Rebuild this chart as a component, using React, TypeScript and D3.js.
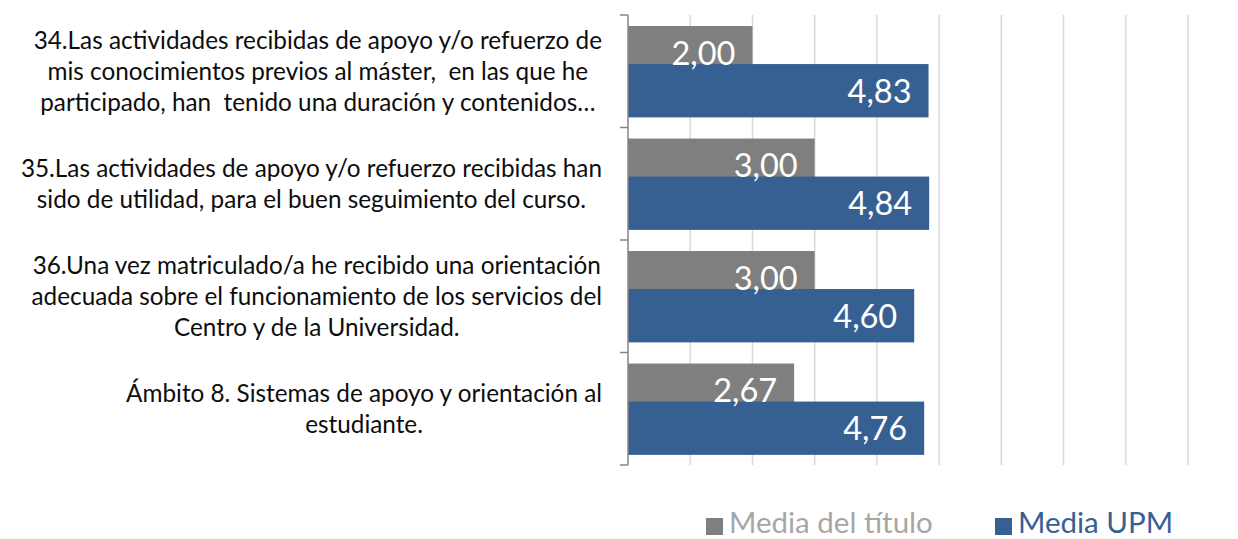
import React, { useEffect, useRef } from "react";
import * as d3 from "d3";

const categories: string[][] = [
  [
    "34.Las actividades recibidas de apoyo y/o refuerzo de",
    "mis conocimientos previos al máster,  en las que he",
    "participado, han  tenido una duración y contenidos…",
  ],
  [
    "35.Las actividades de apoyo y/o refuerzo recibidas han",
    "sido de utilidad, para el buen seguimiento del curso.",
  ],
  [
    "36.Una vez matriculado/a he recibido una orientación",
    "adecuada sobre el funcionamiento de los servicios del",
    "Centro y de la Universidad.",
  ],
  ["Ámbito 8. Sistemas de apoyo y orientación al", "estudiante."],
];
const seriesNames = ["Media del título", "Media UPM"];
const mediaTitulo = [2.0, 3.0, 3.0, 2.67];
const mediaUPM = [4.83, 4.84, 4.6, 4.76];
const xTicks = [0, 1, 2, 3, 4, 5, 6, 7, 8, 9];

const W = 1238;
const H = 539;
const FONT = "Lato, 'Open Sans', sans-serif";
const COLORS = ["#7f7f7f", "#376092"];
const LEGEND_TEXT = ["#a6a6a6", "#376092"];

export default function App() {
  const ref = useRef<SVGSVGElement | null>(null);

  useEffect(() => {
    const svg = d3.select(ref.current);
    svg.selectAll("*").remove();

    const plotLeft = 628;
    const plotRight = 1188;
    const plotTop = 15;
    const plotBottom = 465;

    const x = d3.scaleLinear().domain([0, 9]).range([plotLeft, plotRight]);
    const y = d3
      .scaleBand<number>()
      .domain(categories.map((_, i) => i))
      .range([plotTop, plotBottom])
      .paddingInner(0)
      .paddingOuter(0);
    const step = y.step();
    const padTop = step * 0.098;
    const barH = step * 0.474;
    const seriesOffset = step * 0.338;

    // gridlines
    svg
      .append("g")
      .selectAll("line")
      .data(xTicks.slice(1))
      .join("line")
      .attr("x1", (d) => x(d))
      .attr("x2", (d) => x(d))
      .attr("y1", plotTop)
      .attr("y2", plotBottom)
      .attr("stroke", "#d9d9d9")
      .attr("stroke-width", 1.5);

    const series = [mediaTitulo, mediaUPM];
    series.forEach((vals, si) => {
      svg
        .append("g")
        .selectAll("rect")
        .data(vals)
        .join("rect")
        .attr("x", x(0))
        .attr("y", (_, i) => (y(i) as number) + padTop + si * seriesOffset)
        .attr("width", (d) => x(d) - x(0))
        .attr("height", barH)
        .attr("fill", COLORS[si]);
    });

    // data labels
    series.forEach((vals, si) => {
      svg
        .append("g")
        .selectAll("text")
        .data(vals)
        .join("text")
        .attr("x", (d) => x(d) - 17)
        .attr("y", (_, i) => (y(i) as number) + padTop + si * seriesOffset + barH / 2 + 12)
        .attr("text-anchor", "end")
        .attr("font-family", FONT)
        .attr("font-size", 32.5)
        .attr("fill", "#ffffff")
        .text((d) => d.toFixed(2).replace(".", ","));
    });

    // axis
    const axis = svg.append("g").attr("stroke", "#868686").attr("stroke-width", 1.5);
    axis
      .append("line")
      .attr("x1", plotLeft)
      .attr("x2", plotLeft)
      .attr("y1", plotTop)
      .attr("y2", plotBottom);
    const bounds = categories.map((_, i) => y(i) as number).concat([plotBottom]);
    axis
      .selectAll("line.tick")
      .data(bounds)
      .join("line")
      .attr("class", "tick")
      .attr("x1", plotLeft - 8)
      .attr("x2", plotLeft)
      .attr("y1", (d) => d)
      .attr("y2", (d) => d);

    // category labels
    const lineH = 31;
    const labelRight = 602;
    categories.forEach((lines, i) => {
      const cy = (y(i) as number) + step / 2;
      const g = svg.append("g");
      const texts = g
        .selectAll("text")
        .data(lines)
        .join("text")
        .attr("font-family", FONT)
        .attr("font-size", 24.3)
        .attr("fill", "#0d0d0d")
        .attr("text-anchor", "middle")
        .style("white-space", "pre")
        .attr("y", (_, j) => cy + (j - (lines.length - 1) / 2) * lineH + 8.5)
        .text((d) => d);
      let maxW = 0;
      texts.each(function () {
        const w = (this as SVGTextElement).getComputedTextLength();
        if (w > maxW) maxW = w;
      });
      texts.attr("x", labelRight - maxW / 2);
    });

    // legend
    const legend = svg.append("g");
    const items = [
      { x: 706, name: seriesNames[0] },
      { x: 995, name: seriesNames[1] },
    ];
    items.forEach((it, i) => {
      legend
        .append("rect")
        .attr("x", it.x)
        .attr("y", 518)
        .attr("width", 17)
        .attr("height", 17)
        .attr("fill", COLORS[i]);
      legend
        .append("text")
        .attr("x", it.x + 23)
        .attr("y", 533)
        .attr("font-family", FONT)
        .attr("font-size", 29.5)
        .attr("fill", LEGEND_TEXT[i])
        .text(it.name);
    });
  }, []);

  return (
    <div style={{ position: "fixed", left: 0, top: 0 }}>
      <svg ref={ref} width={W} height={H} style={{ display: "block", background: "#ffffff" }} />
    </div>
  );
}
